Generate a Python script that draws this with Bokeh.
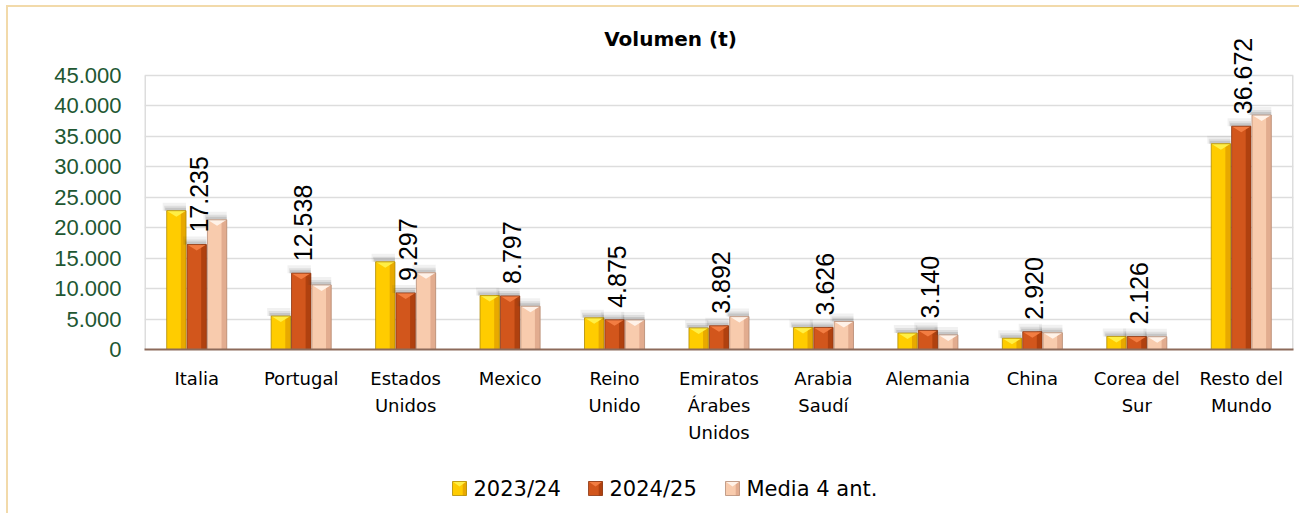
import math
from bokeh.plotting import figure
from bokeh.layouts import column
from bokeh.models import Range1d, FixedTicker, ColumnDataSource
from bokeh.core.properties import value
from bokeh.embed import file_html
from bokeh.resources import INLINE

# ---------------- data ----------------
CATEGORIES = ["Italia", "Portugal", "Estados\nUnidos", "Mexico", "Reino\nUnido",
              "Emiratos\nÁrabes\nUnidos", "Arabia\nSaudí", "Alemania", "China",
              "Corea del\nSur", "Resto del\nMundo"]
SERIES = ["2023/24", "2024/25", "Media 4 ant."]
V_2023_24 = [22800, 5500, 14400, 8850, 5200, 3550, 3600, 2700, 1850, 2150, 33800]
V_2024_25 = [17235, 12538, 9297, 8797, 4875, 3892, 3626, 3140, 2920, 2126, 36672]
V_MEDIA = [21300, 10600, 12600, 7100, 4850, 5400, 4600, 2400, 2750, 2100, 38500]
Y_TICKS = [0, 5000, 10000, 15000, 20000, 25000, 30000, 35000, 40000, 45000]
Y_TICK_LABELS = ["0", "5.000", "10.000", "15.000", "20.000", "25.000",
                 "30.000", "35.000", "40.000", "45.000"]
TITLE = "Volumen (t)"

# ---------------- layout ----------------
W, H = 1291, 451
ML, MR, MT, MB = 136, 6, 0, 109
TOP_LINE_PX = 68                 # canvas y of the 45.000 grid line
FRAME_W = W - ML - MR
FRAME_H = H - MT - MB
N = len(CATEGORIES)
Y_MAX = 45000
UPP = Y_MAX / (FRAME_H - TOP_LINE_PX)     # data units per pixel (y)
Y_TOP = FRAME_H * UPP
XPP = N / FRAME_W

p = figure(width=W, height=H, output_backend="svg", toolbar_location=None,
           x_range=Range1d(0, N), y_range=Range1d(0, Y_TOP),
           min_border_left=ML, min_border_right=MR, min_border_top=MT,
           min_border_bottom=MB)
p.background_fill_color = "white"
p.border_fill_color = "white"
p.outline_line_color = None

# y axis
p.yaxis.ticker = FixedTicker(ticks=Y_TICKS)
p.yaxis.major_label_overrides = {t: l for t, l in zip(Y_TICKS, Y_TICK_LABELS)}
p.yaxis.axis_line_color = None
p.yaxis.major_tick_line_color = None
p.yaxis.minor_tick_line_color = None
p.yaxis.major_label_text_font = "Liberation Sans"
p.yaxis.major_label_text_font_size = "22px"
p.yaxis.major_label_text_color = "#215732"
p.yaxis.major_label_standoff = 17
p.ygrid.grid_line_color = "#DDDDDD"
p.ygrid.grid_line_width = 1.5
p.xgrid.grid_line_color = None

# plot-area side borders
p.segment(x0=[0, N], y0=[0, 0], x1=[0, N], y1=[Y_MAX, Y_MAX],
          line_color="#DDDDDD", line_width=3)

# x axis
x_ticks = [i + 0.5 for i in range(N)]
p.xaxis.ticker = FixedTicker(ticks=x_ticks)
p.xaxis.major_label_overrides = {t: c for t, c in zip(x_ticks, CATEGORIES)}
p.xaxis.axis_line_color = "#8C6A5A"
p.xaxis.axis_line_width = 2
p.xaxis.major_tick_line_color = None
p.xaxis.minor_tick_line_color = None
p.xaxis.major_label_text_font = "DejaVu Sans"
p.xaxis.major_label_text_font_size = "18px"
p.xaxis.major_label_text_color = "black"
p.xaxis.major_label_text_line_height = 1.29
p.xaxis.major_label_standoff = 12

# ---------------- bars ----------------
BAR_W = 0.185
OFFSETS = [-0.195, 0.0, 0.195]
STYLES = [
    dict(main="#FFCC00", side="#E8A900", top="#FFEF45", edge="#B08A00"),
    dict(main="#D2561C", side="#B0410F", top="#F27D42", edge="#8A3510"),
    dict(main="#F8CBAD", side="#E2AC8F", top="#FFF2E8", edge="#B58C75"),
]
VALUES = [V_2023_24, V_2024_25, V_MEDIA]


def bevel_bars(fig, left, right, bottom, top, st, tri_h, shadow_x, shadow_y):
    xc = [(l + r) / 2 for l, r in zip(left, right)]
    for k, a in ((8, 0.07), (5, 0.10), (3, 0.14)):
        fig.quad(left=[l - k * 0.5 * shadow_x for l in left], right=right, bottom=top,
                 top=[t + k * shadow_y for t in top], fill_color="#383838",
                 fill_alpha=a, line_color=None)
    fig.quad(left=left, right=right, bottom=bottom, top=top,
             fill_color=st["main"], line_color=None)
    fig.quad(left=[r - 0.27 * (r - l) for l, r in zip(left, right)], right=right,
             bottom=bottom, top=top, fill_color=st["side"], line_color=None)
    fig.patches(xs=[[l, r, x] for l, r, x in zip(left, right, xc)],
                ys=[[t, t, t - tri_h] for t in top],
                fill_color=st["top"], line_color=None)
    fig.quad(left=left, right=right, bottom=bottom, top=top, fill_alpha=0,
             line_color=st["edge"], line_width=0.8)


for vals, off, st in zip(VALUES, OFFSETS, STYLES):
    xc = [i + 0.5 + off for i in range(N)]
    bevel_bars(p, [x - BAR_W / 2 for x in xc], [x + BAR_W / 2 for x in xc],
               [0] * N, vals, st, 6 * UPP, XPP, UPP)

# data labels on 2024/25
lab_src = ColumnDataSource(dict(
    x=[i + 0.5 for i in range(N)],
    y=[v + 12 * UPP for v in V_2024_25],
    t=[f"{v:,}".replace(",", ".") for v in V_2024_25]))
p.text(x="x", y="y", text="t", source=lab_src, angle=math.pi / 2,
       text_align="left", text_baseline="middle", x_offset=2,
       text_font=value("Liberation Sans"), text_font_size="25px",
       text_color="black")

# title (inside the extended frame)
p.text(x=[526 * XPP], y=[Y_TOP - 31 * UPP], text=[TITLE],
       text_align="center", text_baseline="middle",
       text_font=value("DejaVu Sans"), text_font_style="bold",
       text_font_size="20px", text_color="black")

# ---------------- legend strip ----------------
LH = 55
LEGEND_X = [444, 580, 717]       # swatch left edges (canvas px)
LEGEND_CY = 25                   # swatch centre (px from strip bottom)
SW = 14
p2 = figure(width=W, height=LH, output_backend="svg", toolbar_location=None,
            x_range=Range1d(ML, W - MR), y_range=Range1d(0, LH),
            x_axis_location=None, y_axis_location=None,
            min_border_left=ML, min_border_right=MR,
            min_border_top=0, min_border_bottom=0)
p2.outline_line_color = None
p2.grid.visible = False
p2.background_fill_color = "white"
p2.border_fill_color = "white"
for s, st in enumerate(STYLES):
    x0 = LEGEND_X[s]
    bevel_bars(p2, [x0], [x0 + SW], [LEGEND_CY - SW / 2], [LEGEND_CY + SW / 2],
               st, 5, 0, 0)
p2.text(x=[x + SW + 7 for x in LEGEND_X], y=[LEGEND_CY] * 3, text=SERIES,
        text_align="left", text_baseline="middle",
        text_font=value("DejaVu Sans"), text_font_size="21px", text_color="black")

layout = column(p, p2, spacing=0)
layout.styles = {"border-left": "2px solid #F2DAAA", "border-top": "2px solid #F2DAAA",
                 "margin-left": "6px", "margin-top": "5px"}

open("out.html", "w").write(file_html(layout, INLINE))
